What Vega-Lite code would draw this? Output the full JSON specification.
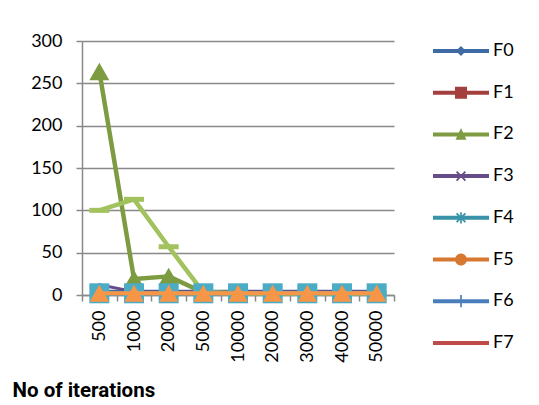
{
  "$schema": "https://vega.github.io/schema/vega-lite/v6.json",
  "autosize": {"type": "none"},
  "width": 312,
  "height": 254,
  "padding": {"left": 82, "top": 41, "right": 145, "bottom": 110},
  "background": "white",
  "config": {
    "view": {"stroke": null},
    "font": "Lato"
  },
  "data": {
    "values": [
      {"it": "500", "F0": 4.5, "F1": 2, "F2": 264, "F3": 12, "F4": 2, "F5": 2, "F6": 2, "F7": 2, "F8": 100, "F9": 2, "F10": 2},
      {"it": "1000", "F0": 4.5, "F1": 2, "F2": 19, "F3": 4, "F4": 2, "F5": 2, "F6": 2, "F7": 2, "F8": 113, "F9": 2, "F10": 2},
      {"it": "2000", "F0": 4.5, "F1": 2, "F2": 22, "F3": 4, "F4": 2, "F5": 2, "F6": 2, "F7": 2, "F8": 57, "F9": 2, "F10": 2},
      {"it": "5000", "F0": 4.5, "F1": 2, "F2": 3, "F3": 4, "F4": 2, "F5": 2, "F6": 2, "F7": 2, "F8": 3, "F9": 2, "F10": 2},
      {"it": "10000", "F0": 4.5, "F1": 2, "F2": 2, "F3": 4, "F4": 2, "F5": 2, "F6": 2, "F7": 2, "F8": 2, "F9": 2, "F10": 2},
      {"it": "20000", "F0": 4.5, "F1": 2, "F2": 2, "F3": 4, "F4": 2, "F5": 2, "F6": 2, "F7": 2, "F8": 2, "F9": 2, "F10": 2},
      {"it": "30000", "F0": 4.5, "F1": 2, "F2": 2, "F3": 4, "F4": 2, "F5": 2, "F6": 2, "F7": 2, "F8": 2, "F9": 2, "F10": 2},
      {"it": "40000", "F0": 4.5, "F1": 2, "F2": 2, "F3": 4, "F4": 2, "F5": 2, "F6": 2, "F7": 2, "F8": 2, "F9": 2, "F10": 2},
      {"it": "50000", "F0": 4.5, "F1": 2, "F2": 2, "F3": 4, "F4": 2, "F5": 2, "F6": 2, "F7": 2, "F8": 2, "F9": 2, "F10": 2}
    ]
  },
  "transform": [
    {"fold": ["F0", "F1", "F2", "F3", "F4", "F5", "F6", "F7", "F8", "F9", "F10"], "as": ["series", "v"]}
  ],
  "encoding": {
    "x": {
      "field": "it", "type": "ordinal",
      "scale": {"domain": ["500", "1000", "2000", "5000", "10000", "20000", "30000", "40000", "50000"], "paddingInner": 0, "paddingOuter": 0},
      "axis": {
        "title": "No of iterations",
        "titleX": -70, "titleY": 101, "titleAlign": "left", "titleBaseline": "alphabetic", "titleAngle": 0,
        "titleFont": "Roboto", "titleFontWeight": "bold", "titleFontSize": 20.5, "titleColor": "#000000",
        "labelAngle": 270, "labelFont": "Lato", "labelFontSize": 18, "labelColor": "#000000", "labelPadding": 9,
        "domainColor": "#898989", "domainWidth": 1.5,
        "tickBand": "extent", "tickColor": "#898989", "tickWidth": 1.5, "tickSize": 6,
        "grid": false
      }
    },
    "y": {
      "field": "v", "type": "quantitative",
      "scale": {"domain": [0, 300], "nice": false},
      "axis": {
        "title": null,
        "values": [0, 50, 100, 150, 200, 250, 300],
        "labelFont": "Lato", "labelFontSize": 18, "labelColor": "#000000", "labelPadding": 14,
        "domainColor": "#898989", "domainWidth": 1.5,
        "tickColor": "#898989", "tickWidth": 1.5, "tickSize": 6,
        "grid": true, "gridColor": "#898989", "gridWidth": 1.5
      }
    },
    "color": {
      "field": "series", "type": "nominal",
      "scale": {
        "domain": ["F0", "F1", "F2", "F3", "F4", "F5", "F6", "F7", "F8", "F9", "F10"],
        "range": ["#3E6BA3", "#A33F3C", "#7D9C42", "#674C8A", "#3893A8", "#D6782F", "#4A7EBB", "#BE4B48", "#A2C25E", "#4BACC6", "#F79646"]
      },
      "legend": null
    }
  },
  "layer": [
    {
      "transform": [{"filter": {"field": "series", "oneOf": ["F0", "F1", "F2", "F3", "F4", "F5", "F6", "F7"]}}],
      "mark": {"type": "point", "filled": true, "opacity": 0, "size": 10},
      "encoding": {
        "color": {
          "field": "series", "type": "nominal",
          "scale": {
            "domain": ["F0", "F1", "F2", "F3", "F4", "F5", "F6", "F7", "F8", "F9", "F10"],
            "range": ["#3E6BA3", "#A33F3C", "#7D9C42", "#674C8A", "#3893A8", "#D6782F", "#4A7EBB", "#BE4B48", "#A2C25E", "#4BACC6", "#F79646"]
          },
          "legend": {
            "title": null, "values": ["F0", "F1", "F2", "F3", "F4", "F5", "F6", "F7"],
            "orient": "none", "legendX": 351, "legendY": -11, "padding": 0,
            "rowPadding": 11.7, "symbolSize": 1764, "symbolOpacity": 1, "symbolStrokeWidth": 0,
            "labelFont": "Lato", "labelFontSize": 18, "labelColor": "#000000", "labelOffset": 18
          }
        },
        "shape": {
          "field": "series", "type": "nominal",
          "scale": {
            "domain": ["F0", "F1", "F2", "F3", "F4", "F5", "F6", "F7", "F8", "F9", "F10"],
            "range": [
              "M-1,-0.095H1.667V0.095H-1ZM0.333,-0.238L0.571,0L0.333,0.238L0.095,0Z",
              "M-1,-0.095H1.667V0.095H-1ZM0.047,-0.286H0.619V0.286H0.047Z",
              "M-1,-0.095H1.667V0.095H-1ZM0.333,-0.3L0.593,0.26H0.073Z",
              "M-1,-0.095H1.667V0.095H-1ZM0.093,-0.18L0.153,-0.24L0.333,-0.06L0.513,-0.24L0.573,-0.18L0.393,0L0.573,0.18L0.513,0.24L0.333,0.06L0.153,0.24L0.093,0.18L0.273,0Z",
              "M-1,-0.095H1.667V0.095H-1ZM0.093,-0.18L0.153,-0.24L0.333,-0.06L0.513,-0.24L0.573,-0.18L0.393,0L0.573,0.18L0.513,0.24L0.333,0.06L0.153,0.24L0.093,0.18L0.273,0ZM0.293,-0.27H0.373V0.27H0.293Z",
              "M-1,-0.095H1.667V0.095H-1ZM0.047,0A0.286,0.286 0 1,1 0.619,0A0.286,0.286 0 1,1 0.047,0Z",
              "M-1,-0.095H1.667V0.095H-1ZM0.293,-0.29H0.373V0.29H0.293Z",
              "M-1,-0.095H1.667V0.095H-1Z",
              "M-1,-0.095H1.667V0.095H-1Z",
              "M-1,-0.095H1.667V0.095H-1Z",
              "M-1,-0.095H1.667V0.095H-1Z"
            ]
          },
          "legend": {
            "title": null, "values": ["F0", "F1", "F2", "F3", "F4", "F5", "F6", "F7"],
            "orient": "none", "legendX": 351, "legendY": -11, "padding": 0,
            "rowPadding": 11.7, "symbolSize": 1764, "symbolOpacity": 1, "symbolStrokeWidth": 0,
            "labelFont": "Lato", "labelFontSize": 18, "labelColor": "#000000", "labelOffset": 18
          }
        }
      }
    },
    {
      "transform": [{"filter": {"field": "series", "oneOf": ["F0", "F1", "F3", "F4", "F5", "F6", "F7"]}}],
      "mark": {"type": "line", "strokeWidth": 3, "strokeJoin": "round", "strokeCap": "round"}
    },
    {
      "transform": [{"filter": {"field": "series", "equal": "F2"}}],
      "mark": {"type": "line", "strokeWidth": 4.5, "strokeJoin": "round", "strokeCap": "round"}
    },
    {
      "transform": [{"filter": {"field": "series", "equal": "F2"}}],
      "mark": {"type": "point", "shape": "triangle-up", "size": 400, "filled": true, "opacity": 1}
    },
    {
      "transform": [{"filter": {"field": "series", "equal": "F8"}}],
      "mark": {"type": "line", "strokeWidth": 4.5, "strokeJoin": "round", "strokeCap": "round"}
    },
    {
      "transform": [{"filter": {"field": "series", "equal": "F8"}}],
      "mark": {"type": "point", "shape": "M-1,-0.25H1V0.25H-1Z", "size": 400, "filled": true, "opacity": 1}
    },
    {
      "transform": [{"filter": {"field": "series", "equal": "F9"}}],
      "mark": {"type": "line", "strokeWidth": 4, "strokeJoin": "round", "strokeCap": "round"}
    },
    {
      "transform": [{"filter": {"field": "series", "equal": "F9"}}],
      "mark": {"type": "point", "shape": "square", "size": 400, "filled": true, "opacity": 1}
    },
    {
      "transform": [{"filter": {"field": "series", "equal": "F10"}}],
      "mark": {"type": "line", "strokeWidth": 4, "strokeJoin": "round", "strokeCap": "round"}
    },
    {
      "transform": [{"filter": {"field": "series", "equal": "F10"}}],
      "mark": {"type": "point", "shape": "triangle-up", "size": 380, "filled": true, "opacity": 1}
    }
  ]
}
